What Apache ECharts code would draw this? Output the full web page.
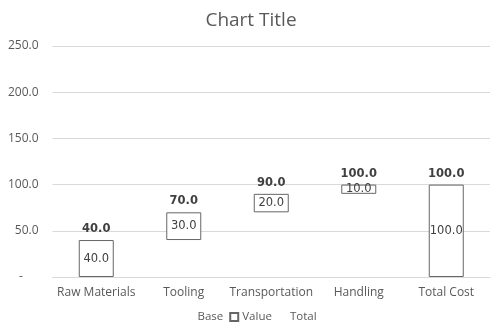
<!DOCTYPE html>
<html><head><meta charset="utf-8">
<script src="https://cdn.jsdelivr.net/npm/echarts@6/dist/echarts.min.js"></script>
<style>html,body{margin:0;padding:0;background:#fff}#c{width:502px;height:335px}</style>
</head><body><div id="c"></div>
<script>
const categories = ['Raw Materials','Tooling','Transportation','Handling','Total Cost'];
const baseValues = [0, 40, 70, 90, 0];
const valueValues = [40, 30, 20, 10, 100];
const totalValues = [40, 70, 90, 100, 100];
const yTicks = {min:0, max:250, interval:50};

const chart = echarts.init(document.getElementById('c'), null, {renderer:'canvas'});
const axisFont = '"Open Sans", Lato, sans-serif';
chart.setOption({
  animation:false,
  title:{text:'Chart Title', left:'center', top:6, textStyle:{fontFamily:axisFont, fontSize:19, fontWeight:'normal', color:'#595959'}},
  grid:{left:52.5, right:12, top:46, bottom:58},
  legend:{bottom:7, left:'center', itemWidth:8, itemHeight:8, itemGap:6, icon:'rect',
    textStyle:{fontFamily:axisFont, fontSize:11.5, color:'#595959', padding:[0,0,0,-1]},
    data:['Base','Value','Total']},
  xAxis:{type:'category', data:categories,
    axisLine:{lineStyle:{color:'#d9d9d9'}}, axisTick:{show:false},
    axisLabel:{interval:0, fontFamily:axisFont, fontSize:12, color:'#595959', margin:10}},
  yAxis:{type:'value', min:yTicks.min, max:yTicks.max, interval:yTicks.interval,
    axisLine:{show:false}, axisTick:{show:false},
    splitLine:{lineStyle:{color:'#d9d9d9'}},
    axisLabel:{fontFamily:axisFont, fontSize:12, color:'#595959', margin:14,
      formatter:v=> v===0 ? '-     ' : v.toFixed(1)}},
  series:[
    {name:'Base', type:'bar', stack:'s', data:baseValues, barWidth:'40%',
      itemStyle:{color:'rgba(0,0,0,0)'}, emphasis:{disabled:true}},
    {name:'Value', type:'bar', stack:'s', data:valueValues, barWidth:'40%',
      itemStyle:{color:'#ffffff', borderColor:'#666666', borderWidth:1},
      label:{show:true, position:'inside', formatter:p=>p.value.toFixed(1), fontFamily:'"DejaVu Sans", sans-serif', fontSize:11.5, color:'#404040'}},
    {name:'Total', type:'bar', data:totalValues, barWidth:'40%', barGap:'-100%', z:1,
      itemStyle:{color:'rgba(0,0,0,0)'},
      label:{show:true, position:'top', distance:5, formatter:p=>p.value.toFixed(1), fontFamily:'"DejaVu Sans", sans-serif', fontSize:11.5, fontWeight:'bold', color:'#404040'}}
  ]
});
</script></body></html>
